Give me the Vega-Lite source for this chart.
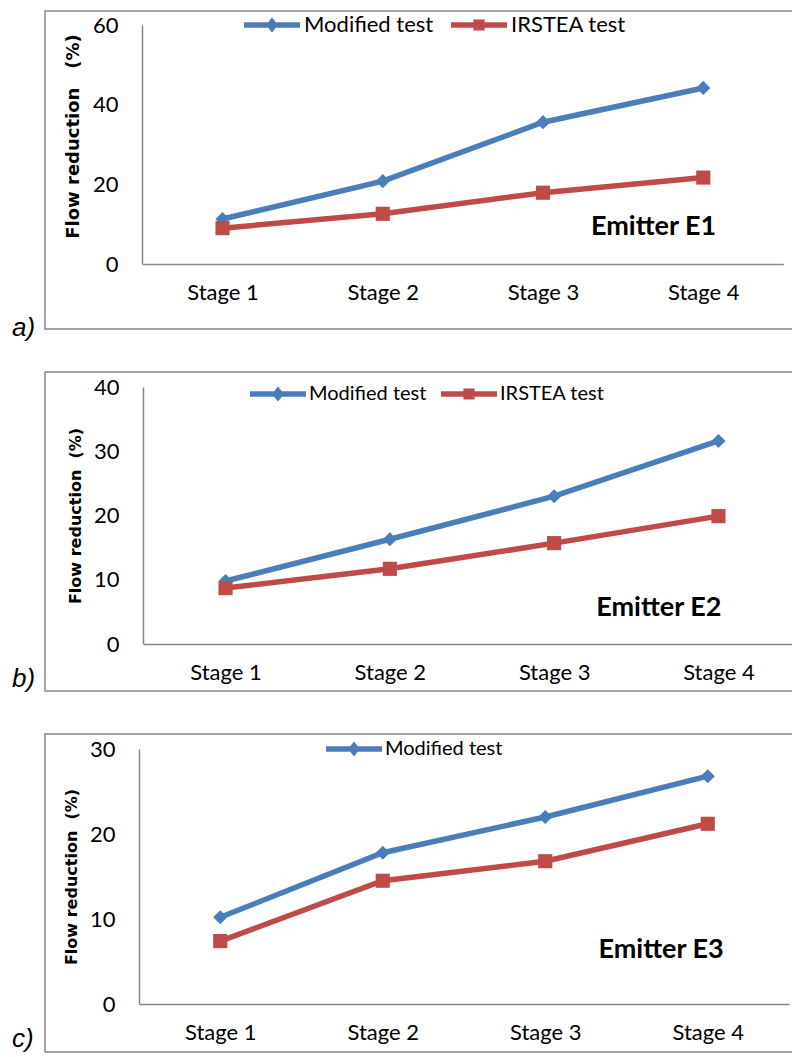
{
  "$schema": "https://vega.github.io/schema/vega-lite/v6.json",
  "padding": {"left": 11, "top": 10, "right": 0, "bottom": 0},
  "background": "white",
  "config": {
    "view": {"stroke": "#878787", "strokeWidth": 1.5},
    "axis": {"grid": false, "ticks": false, "tickSize": 0, "domainColor": "#868686", "domainWidth": 1.5, "labelColor": "#000000", "labelFont": "Lato", "labelFontSize": 22, "titleColor": "#000000", "titleFont": "DejaVu Sans", "titleFontWeight": "bold", "titleFontSize": 16},
    "legend": {"labelFont": "Lato", "labelFontSize": 21, "labelColor": "#000000", "symbolOpacity": 1, "symbolStrokeWidth": 0},
    "title": {"font": "Liberation Sans", "fontStyle": "italic", "fontWeight": "normal", "fontSize": 26, "color": "#000000"}
  },
  "data": {"values": [
    {"panel": "a", "stage": "Stage 1", "series": "Modified test", "value": 11.3},
    {"panel": "a", "stage": "Stage 2", "series": "Modified test", "value": 20.8},
    {"panel": "a", "stage": "Stage 3", "series": "Modified test", "value": 35.6},
    {"panel": "a", "stage": "Stage 4", "series": "Modified test", "value": 44.2},
    {"panel": "a", "stage": "Stage 1", "series": "IRSTEA test", "value": 9.0},
    {"panel": "a", "stage": "Stage 2", "series": "IRSTEA test", "value": 12.6},
    {"panel": "a", "stage": "Stage 3", "series": "IRSTEA test", "value": 17.9},
    {"panel": "a", "stage": "Stage 4", "series": "IRSTEA test", "value": 21.7},
    {"panel": "b", "stage": "Stage 1", "series": "Modified test", "value": 9.8},
    {"panel": "b", "stage": "Stage 2", "series": "Modified test", "value": 16.3},
    {"panel": "b", "stage": "Stage 3", "series": "Modified test", "value": 23.0},
    {"panel": "b", "stage": "Stage 4", "series": "Modified test", "value": 31.6},
    {"panel": "b", "stage": "Stage 1", "series": "IRSTEA test", "value": 8.7},
    {"panel": "b", "stage": "Stage 2", "series": "IRSTEA test", "value": 11.7},
    {"panel": "b", "stage": "Stage 3", "series": "IRSTEA test", "value": 15.7},
    {"panel": "b", "stage": "Stage 4", "series": "IRSTEA test", "value": 19.9},
    {"panel": "c", "stage": "Stage 1", "series": "Modified test", "value": 10.2},
    {"panel": "c", "stage": "Stage 2", "series": "Modified test", "value": 17.8},
    {"panel": "c", "stage": "Stage 3", "series": "Modified test", "value": 22.0},
    {"panel": "c", "stage": "Stage 4", "series": "Modified test", "value": 26.8},
    {"panel": "c", "stage": "Stage 1", "series": "IRSTEA test", "value": 7.4},
    {"panel": "c", "stage": "Stage 2", "series": "IRSTEA test", "value": 14.5},
    {"panel": "c", "stage": "Stage 3", "series": "IRSTEA test", "value": 16.8},
    {"panel": "c", "stage": "Stage 4", "series": "IRSTEA test", "value": 21.2}
  ]},
  "bounds": "flush",
  "spacing": 43,
  "resolve": {"scale": {"x": "independent", "y": "independent", "color": "independent", "shape": "independent"}, "legend": {"color": "independent", "shape": "independent"}, "axis": {"x": "independent", "y": "independent"}},
  "vconcat": [
    {
      "width": 760, "height": 318,
      "title": {"text": "a)", "orient": "bottom", "anchor": "start", "baseline": "alphabetic", "offset": 0, "dx": -33, "dy": 7},
      "transform": [{"filter": "datum.panel == 'a'"}],
      "encoding": {
        "x": {"field": "stage", "type": "ordinal", "scale": {"type": "point", "range": [97.4, 738.4], "padding": 0.5}, "axis": {"title": null, "labelAngle": 0, "offset": -65, "labelPadding": 18}},
        "y": {"field": "value", "type": "quantitative", "scale": {"domain": [0, 60], "range": [253, 14], "nice": false, "zero": true}, "axis": {"title": "Flow reduction\u00a0\u00a0\u00a0(%)", "titleFontSize": 18, "titleY": 125, "values": [0, 20, 40, 60], "offset": -97, "labelPadding": 24, "titlePadding": 10}}
      },
      "layer": [
        {"mark": {"type": "line", "strokeWidth": 5.5}, "encoding": {"detail": {"field": "series"}, "color": {"condition": {"test": "datum.series == 'IRSTEA test'", "value": "#be4b48"}, "value": "#4a7ebb"}}},
        {"mark": {"type": "point", "filled": true, "opacity": 1, "size": 200}, "encoding": {"color": {"condition": {"test": "datum.series == 'IRSTEA test'", "value": "#be4b48"}, "value": "#4a7ebb"}, "shape": {"condition": {"test": "datum.series == 'IRSTEA test'", "value": "square"}, "value": "diamond"}}},
        {"mark": {"type": "point", "filled": true, "opacity": 0}, "encoding": {
          "color": {"field": "series", "type": "nominal", "scale": {"domain": ["Modified test", "IRSTEA test"], "range": ["#4a7ebb", "#be4b48"]}, "legend": {"orient": "none", "legendX": 216, "legendY": 3, "direction": "horizontal", "title": null, "symbolSize": 256, "labelOffset": 21, "labelFontSize": 22, "columnPadding": 17}},
          "shape": {"field": "series", "type": "nominal", "scale": {"domain": ["Modified test", "IRSTEA test"], "range": ["M-3.5,-0.34L3.5,-0.34L3.5,0.34L-3.5,0.34Z M0,-0.95L0.75,0L0,0.95L-0.75,0Z", "M-3.5,-0.34L3.5,-0.34L3.5,0.34L-3.5,0.34Z M-0.7,-0.7L0.7,-0.7L0.7,0.7L-0.7,0.7Z"]}, "legend": {"orient": "none", "legendX": 216, "legendY": 3, "direction": "horizontal", "title": null, "symbolSize": 256, "labelOffset": 21, "labelFontSize": 22, "columnPadding": 17}}}},
        {"transform": [{"filter": "datum.stage == 'Stage 4' && datum.series == 'Modified test'"}], "mark": {"type": "text", "font": "Lato", "fontWeight": "bold", "fontSize": 27, "align": "right", "baseline": "middle", "dx": 13, "color": "#000000"}, "encoding": {"x": {"datum": "Stage 4"}, "y": {"datum": 9.3}, "text": {"value": "Emitter E1"}}}
      ]
    },
    {
      "width": 760, "height": 319,
      "title": {"text": "b)", "orient": "bottom", "anchor": "start", "baseline": "alphabetic", "offset": 0, "dx": -33, "dy": -4},
      "transform": [{"filter": "datum.panel == 'b'"}],
      "encoding": {
        "x": {"field": "stage", "type": "ordinal", "scale": {"type": "point", "range": [98.4, 755.6], "padding": 0.5}, "axis": {"title": null, "labelAngle": 0, "offset": -47, "labelPadding": 18}},
        "y": {"field": "value", "type": "quantitative", "scale": {"domain": [0, 40], "range": [272, 15], "nice": false, "zero": true}, "axis": {"title": "Flow reduction\u00a0\u00a0(%)", "values": [0, 10, 20, 30, 40], "offset": -98, "labelPadding": 24, "titlePadding": 10}}
      },
      "layer": [
        {"mark": {"type": "line", "strokeWidth": 5.5}, "encoding": {"detail": {"field": "series"}, "color": {"condition": {"test": "datum.series == 'IRSTEA test'", "value": "#be4b48"}, "value": "#4a7ebb"}}},
        {"mark": {"type": "point", "filled": true, "opacity": 1, "size": 200}, "encoding": {"color": {"condition": {"test": "datum.series == 'IRSTEA test'", "value": "#be4b48"}, "value": "#4a7ebb"}, "shape": {"condition": {"test": "datum.series == 'IRSTEA test'", "value": "square"}, "value": "diamond"}}},
        {"mark": {"type": "point", "filled": true, "opacity": 0}, "encoding": {
          "color": {"field": "series", "type": "nominal", "scale": {"domain": ["Modified test", "IRSTEA test"], "range": ["#4a7ebb", "#be4b48"]}, "legend": {"orient": "none", "legendX": 223, "legendY": 12, "direction": "horizontal", "title": null, "symbolSize": 256, "labelOffset": 21, "labelFontSize": 20, "columnPadding": 14}},
          "shape": {"field": "series", "type": "nominal", "scale": {"domain": ["Modified test", "IRSTEA test"], "range": ["M-3.5,-0.34L3.5,-0.34L3.5,0.34L-3.5,0.34Z M0,-0.95L0.75,0L0,0.95L-0.75,0Z", "M-3.5,-0.34L3.5,-0.34L3.5,0.34L-3.5,0.34Z M-0.7,-0.7L0.7,-0.7L0.7,0.7L-0.7,0.7Z"]}, "legend": {"orient": "none", "legendX": 223, "legendY": 12, "direction": "horizontal", "title": null, "symbolSize": 256, "labelOffset": 21, "labelFontSize": 20, "columnPadding": 14}}}},
        {"transform": [{"filter": "datum.stage == 'Stage 4' && datum.series == 'Modified test'"}], "mark": {"type": "text", "font": "Lato", "fontWeight": "bold", "fontSize": 27, "align": "right", "baseline": "middle", "dx": 3, "color": "#000000"}, "encoding": {"x": {"datum": "Stage 4"}, "y": {"datum": 5.6}, "text": {"value": "Emitter E2"}}}
      ]
    },
    {
      "width": 760, "height": 318,
      "title": {"text": "c)", "orient": "bottom", "anchor": "start", "baseline": "alphabetic", "offset": 0, "dx": -33, "dy": -5},
      "transform": [{"filter": "datum.panel == 'c'"}],
      "encoding": {
        "x": {"field": "stage", "type": "ordinal", "scale": {"type": "point", "range": [94, 744], "padding": 0.5}, "axis": {"title": null, "labelAngle": 0, "offset": -48, "labelPadding": 18}},
        "y": {"field": "value", "type": "quantitative", "scale": {"domain": [0, 30], "range": [270, 15], "nice": false, "zero": true}, "axis": {"title": "Flow reduction\u00a0\u00a0(%)", "values": [0, 10, 20, 30], "offset": -94, "labelPadding": 24, "titlePadding": 10}}
      },
      "layer": [
        {"mark": {"type": "line", "strokeWidth": 5.5}, "encoding": {"detail": {"field": "series"}, "color": {"condition": {"test": "datum.series == 'IRSTEA test'", "value": "#be4b48"}, "value": "#4a7ebb"}}},
        {"mark": {"type": "point", "filled": true, "opacity": 1, "size": 200}, "encoding": {"color": {"condition": {"test": "datum.series == 'IRSTEA test'", "value": "#be4b48"}, "value": "#4a7ebb"}, "shape": {"condition": {"test": "datum.series == 'IRSTEA test'", "value": "square"}, "value": "diamond"}}},
        {"mark": {"type": "point", "filled": true, "opacity": 0}, "encoding": {
          "color": {"field": "series", "type": "nominal", "scale": {"domain": ["Modified test", "IRSTEA test"], "range": ["#4a7ebb", "#be4b48"]}, "legend": {"orient": "none", "legendX": 299, "legendY": 5, "direction": "horizontal", "title": null, "values": ["Modified test"], "symbolSize": 256, "labelOffset": 21, "labelFontSize": 20, "columnPadding": 14}},
          "shape": {"field": "series", "type": "nominal", "scale": {"domain": ["Modified test", "IRSTEA test"], "range": ["M-3.5,-0.34L3.5,-0.34L3.5,0.34L-3.5,0.34Z M0,-0.95L0.75,0L0,0.95L-0.75,0Z", "M-3.5,-0.34L3.5,-0.34L3.5,0.34L-3.5,0.34Z M-0.7,-0.7L0.7,-0.7L0.7,0.7L-0.7,0.7Z"]}, "legend": {"orient": "none", "legendX": 299, "legendY": 5, "direction": "horizontal", "title": null, "values": ["Modified test"], "symbolSize": 256, "labelOffset": 21, "labelFontSize": 20, "columnPadding": 14}}}},
        {"transform": [{"filter": "datum.stage == 'Stage 4' && datum.series == 'Modified test'"}], "mark": {"type": "text", "font": "Lato", "fontWeight": "bold", "fontSize": 27, "align": "right", "baseline": "middle", "dx": 16, "color": "#000000"}, "encoding": {"x": {"datum": "Stage 4"}, "y": {"datum": 6.35}, "text": {"value": "Emitter E3"}}}
      ]
    }
  ]
}
